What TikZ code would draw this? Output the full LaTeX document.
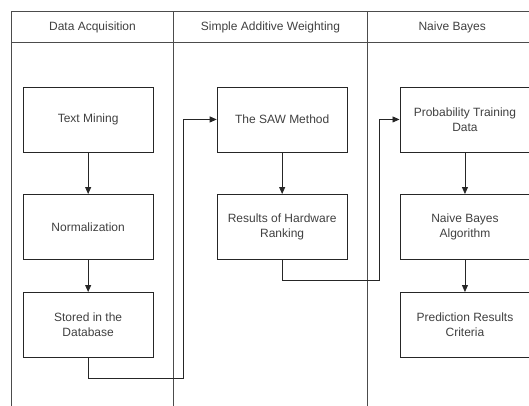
\documentclass[tikz,border=0pt]{standalone}
\usepackage{fontspec}
\setmainfont{Liberation Sans}
\usetikzlibrary{arrows.meta}
\begin{document}
\begin{tikzpicture}[x=1pt,y=-1pt,
  lane/.style={draw=black!70,line width=0.8pt},
  stepbox/.style={draw=black!85,line width=0.9pt,minimum width=130pt,minimum height=65pt,inner sep=0pt,align=center,text=black!75,font=\fontsize{12}{15}\selectfont,anchor=north west},
  hdr/.style={text=black!75,font=\fontsize{12}{15}\selectfont},
  conn/.style={draw=black!85,line width=0.8pt,-{Triangle[length=7pt,width=6pt]}}]
\useasboundingbox (0,0) rectangle (529,405);
\begin{scope}
\clip (0,0) rectangle (529,405);
% lanes
\draw[lane] (11.7,410) -- (11.7,11) -- (540,11);
\draw[lane] (11.7,42.7) -- (540,42.7);
\draw[lane] (173.3,11) -- (173.3,410);
\draw[lane] (367.7,11) -- (367.7,410);
\node[hdr] (h1) at (92.5,27) {Data Acquisition};
\node[hdr] (h2) at (270.5,27) {Simple Additive Weighting};
\node[hdr] (h3) at (452.2,27) {Naive Bayes};
% boxes
\node[stepbox] (tm) at (22.7,86.5) {Text Mining};
\node[stepbox] (nm) at (22.7,194) {Normalization};
\node[stepbox] (sd) at (22.7,292) {Stored in the\\Database};
\node[stepbox] (saw) at (216.7,86.5) {The SAW Method};
\node[stepbox] (rh) at (216.7,194) {Results of Hardware\\Ranking};
\node[stepbox] (pt) at (399.5,86.5) {Probability Training\\Data};
\node[stepbox] (nb) at (399.5,194) {Naive Bayes\\Algorithm};
\node[stepbox] (pr) at (399.5,292) {Prediction Results\\Criteria};
% connectors
\draw[conn] (tm) -- (nm);
\draw[conn] (nm) -- (sd);
\draw[conn] (saw) -- (rh);
\draw[conn] (pt) -- (nb);
\draw[conn] (nb) -- (pr);
\coordinate (c1) at (183,378.3);
\coordinate (c2) at (379,280.7);
\draw[conn] (sd.south) |- (c1) |- (saw.west);
\draw[conn] (rh.south) |- (c2) |- (pt.west);
\end{scope}
\end{tikzpicture}
\end{document}
